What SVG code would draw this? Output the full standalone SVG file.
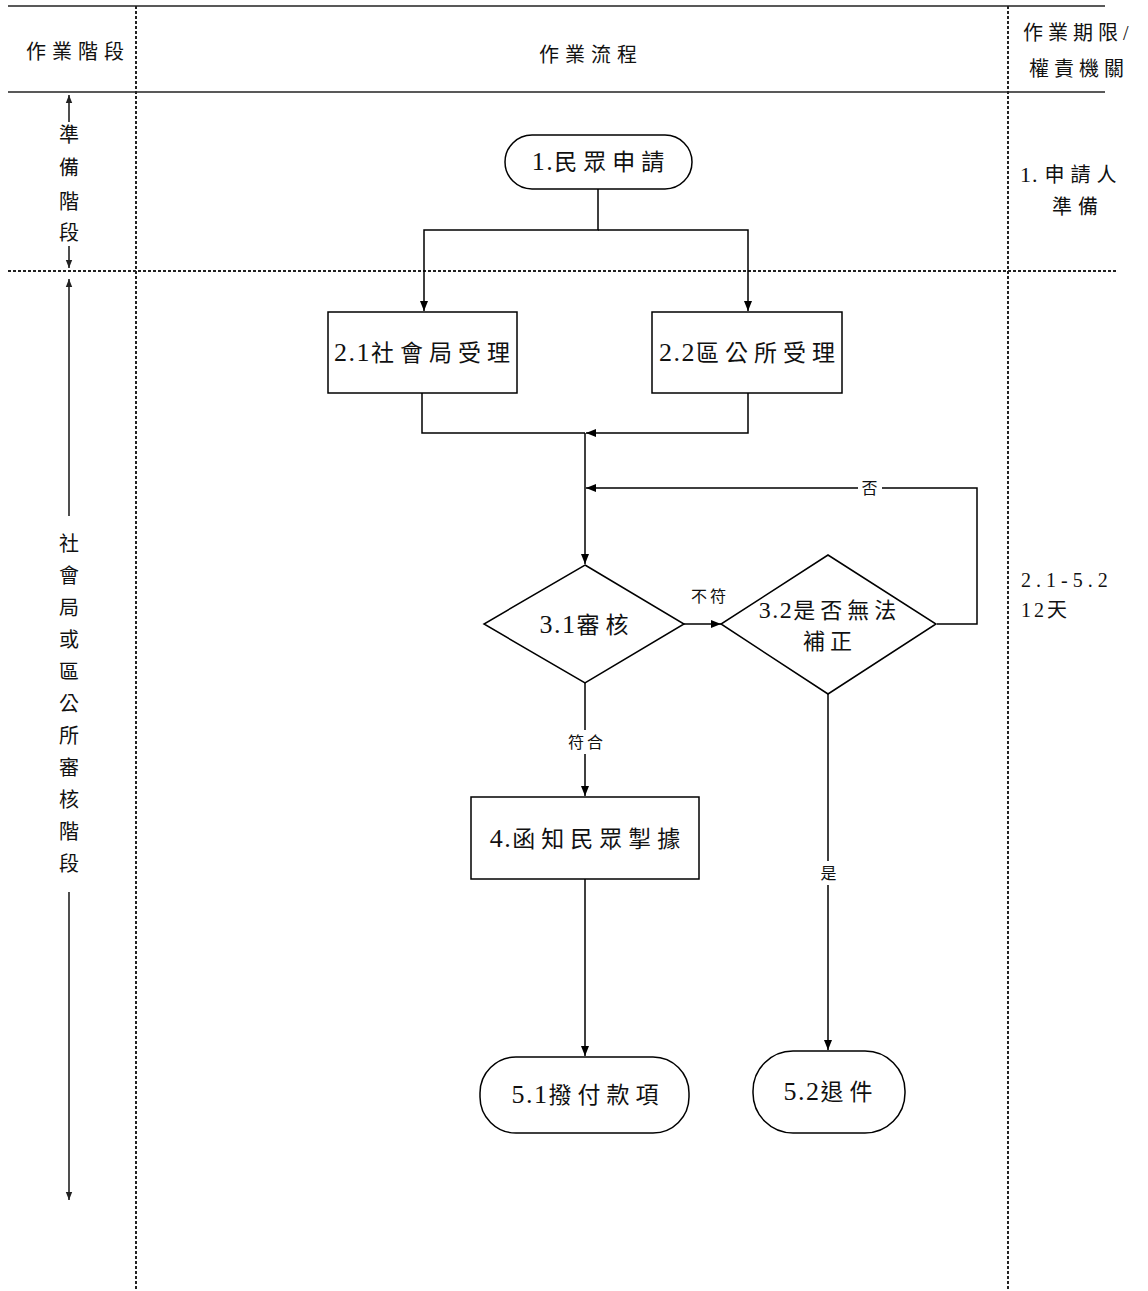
<svg xmlns="http://www.w3.org/2000/svg" width="1148" height="1291" viewBox="0 0 1148 1291">
<style>
.ln{stroke:#000;stroke-width:1.5;fill:none}
.dot{stroke:#222;stroke-width:2;stroke-dasharray:3 2;fill:none}
.sol{stroke:#222;stroke-width:1.6;fill:none}
.box{fill:#fff;stroke:#000;stroke-width:1.5}
.t{font-family:"Liberation Serif","Noto Sans CJK TC",serif;fill:#111}
.n{font-size:23px;letter-spacing:6px;text-anchor:middle}
.d{font-size:26px;letter-spacing:1.5px}
.h{font-size:20px;letter-spacing:6px;text-anchor:middle}
.lb{font-size:16px;letter-spacing:3px;text-anchor:middle}
.v{font-size:20px;text-anchor:middle}
.r{font-size:20px;letter-spacing:6px}
.rd{font-size:22px;letter-spacing:1px}
</style>
<defs>
<marker id="ah" viewBox="0 0 10 10" refX="10" refY="5" markerWidth="11" markerHeight="10" markerUnits="userSpaceOnUse" orient="auto"><path d="M0,1 L10,5 L0,9 z" fill="#000"/></marker>
<marker id="sa" viewBox="0 0 10 10" refX="10" refY="5" markerWidth="9" markerHeight="8" markerUnits="userSpaceOnUse" orient="auto-start-reverse"><path d="M0,1 L10,5 L0,9 z" fill="#222"/></marker>
</defs>
<rect width="1148" height="1291" fill="#fff"/>
<g id="frame">
<line class="sol" x1="8" y1="6" x2="1105" y2="6"/>
<line class="sol" x1="8" y1="92" x2="1105" y2="92"/>
<line class="dot" x1="8" y1="271" x2="1117" y2="271"/>
<line class="dot" x1="136" y1="6" x2="136" y2="1291"/>
<line class="dot" x1="1008" y1="6" x2="1008" y2="1291"/>
<text class="t h" x="78" y="59">作業階段</text>
<text class="t h" x="591" y="62">作業流程</text>
<text class="t r" x="1023" y="40" style="letter-spacing:5px">作業期限/</text>
<text class="t r" x="1029" y="76" style="letter-spacing:5px">權責機關</text>
<text class="t r" x="1020" y="182"><tspan class="rd">1.</tspan><tspan dx="6">申請人</tspan></text>
<text class="t r" x="1052" y="214">準備</text>
<text class="t r" x="1021" y="587" style="letter-spacing:5px">2.1-5.2</text>
<text class="t r" x="1021" y="617" style="letter-spacing:3px">12天</text>
</g>
<g id="stage1">
<line class="sol" x1="69" y1="95" x2="69" y2="268" marker-start="url(#sa)" marker-end="url(#sa)"/>
<rect x="56" y="122" width="26" height="124" fill="#fff"/>
<text class="t v" x="69" y="142">準</text>
<text class="t v" x="69" y="175">備</text>
<text class="t v" x="69" y="209">階</text>
<text class="t v" x="69" y="240">段</text>
</g>
<g id="stage2">
<line class="sol" x1="69" y1="279" x2="69" y2="1200" marker-start="url(#sa)" marker-end="url(#sa)"/>
<rect x="56" y="516" width="26" height="376" fill="#fff"/>
<text class="t v" x="69" y="551">社</text>
<text class="t v" x="69" y="583">會</text>
<text class="t v" x="69" y="615">局</text>
<text class="t v" x="69" y="647">或</text>
<text class="t v" x="69" y="679">區</text>
<text class="t v" x="69" y="711">公</text>
<text class="t v" x="69" y="743">所</text>
<text class="t v" x="69" y="775">審</text>
<text class="t v" x="69" y="807">核</text>
<text class="t v" x="69" y="839">階</text>
<text class="t v" x="69" y="871">段</text>
</g>
<g id="connectors">
<path class="ln" d="M598,189 V230 H424 V311" marker-end="url(#ah)"/>
<path class="ln" d="M598,230 H748 V311" marker-end="url(#ah)"/>
<path class="ln" d="M422,393 V433 H585"/>
<path class="ln" d="M748,393 V433 H586" marker-end="url(#ah)"/>
<path class="ln" d="M585,433 V564" marker-end="url(#ah)"/>
<path class="ln" d="M937,624 H977 V488 H586" marker-end="url(#ah)"/>
<path class="ln" d="M684,624 H721" marker-end="url(#ah)"/>
<path class="ln" d="M585,683 V796" marker-end="url(#ah)"/>
<path class="ln" d="M828,694 V1050" marker-end="url(#ah)"/>
<path class="ln" d="M585,879 V1056" marker-end="url(#ah)"/>
<rect x="858" y="478" width="24" height="20" fill="#fff"/>
<text class="t lb" x="871" y="494">否</text>
<text class="t lb" x="710" y="602">不符</text>
<rect x="562" y="730" width="46" height="24" fill="#fff"/>
<text class="t lb" x="587" y="748">符合</text>
<rect x="816" y="861" width="24" height="24" fill="#fff"/>
<text class="t lb" x="830" y="879">是</text>
</g>
<g id="n1">
<rect class="box" x="505" y="135" width="187" height="54" rx="27"/>
<text class="t n" x="601" y="170"><tspan class="d">1.</tspan>民眾申請</text>
</g>
<g id="n21">
<rect class="box" x="328" y="312" width="189" height="81"/>
<text class="t n" x="425" y="361"><tspan class="d">2.1</tspan>社會局受理</text>
</g>
<g id="n22">
<rect class="box" x="652" y="312" width="190" height="81"/>
<text class="t n" x="750" y="361"><tspan class="d">2.2</tspan>區公所受理</text>
</g>
<g id="n31">
<polygon class="box" points="585,565 684,624 585,683 484,624"/>
<text class="t n" x="587" y="633"><tspan class="d">3.1</tspan>審核</text>
</g>
<g id="n32">
<polygon class="box" points="828,555 936,624 828,694 721,624"/>
<text class="t n" x="830" y="618" style="font-size:22px;letter-spacing:5px"><tspan class="d" style="font-size:24px">3.2</tspan>是否無法</text>
<text class="t n" x="830" y="649" style="font-size:22px;letter-spacing:5px">補正</text>
</g>
<g id="n4">
<rect class="box" x="471" y="797" width="228" height="82"/>
<text class="t n" x="588" y="847"><tspan class="d">4.</tspan>函知民眾掣據</text>
</g>
<g id="n51">
<rect class="box" x="480" y="1057" width="209" height="76" rx="36"/>
<text class="t n" x="588" y="1103"><tspan class="d">5.1</tspan>撥付款項</text>
</g>
<g id="n52">
<rect class="box" x="753" y="1051" width="152" height="82" rx="40"/>
<text class="t n" x="831" y="1100"><tspan class="d">5.2</tspan>退件</text>
</g>
</svg>
